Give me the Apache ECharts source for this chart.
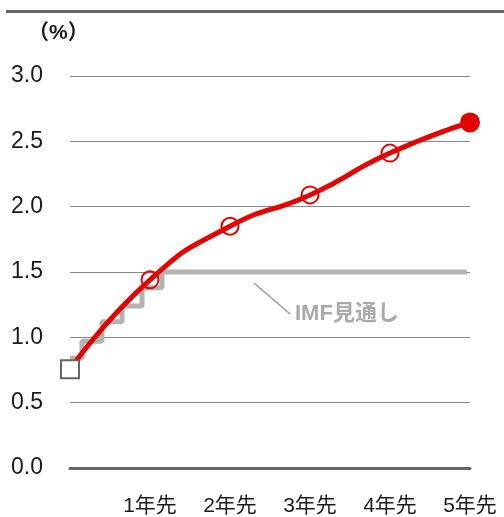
<!DOCTYPE html>
<html>
<head>
<meta charset="utf-8">
<script src="https://cdn.jsdelivr.net/npm/echarts@6/dist/echarts.min.js"></script>
<style>
html,body{margin:0;padding:0;background:#fff;}
#chart{width:504px;height:517px;}
</style>
</head>
<body>
<div id="chart"></div>
<script>
// Data
const years = [0, 1, 2, 3, 4, 5];
const xTickLabels = ['', '1年先', '2年先', '3年先', '4年先', '5年先'];
const forecastValues = [0.755, 1.44, 1.85, 2.09, 2.41, 2.645];
const imfX = [0, 0.15, 0.4, 0.65, 0.9, 1.15, 4.96];
const imfValues = [0.84, 0.97, 1.12, 1.24, 1.38, 1.5, 1.5];
const yTicks = [0, 0.5, 1.0, 1.5, 2.0, 2.5, 3.0];
const unitLabel = '（%）';
const imfLabel = 'IMF見通し';

const RED = '#e50000';
const FONT = '"Liberation Sans", Arial, "Noto Sans CJK JP", sans-serif';

const redData = years.map((x, i) => {
  const item = { value: [x, forecastValues[i]] };
  if (i === 0) {
    item.symbol = 'none';
  } else if (i === years.length - 1) {
    item.symbol = 'circle';
    item.symbolSize = 20;
    item.itemStyle = { color: RED, borderColor: RED, borderWidth: 0 };
  } else {
    item.symbol = 'circle';
    item.symbolSize = 17;
    item.itemStyle = { color: 'rgba(255,255,255,0)', borderColor: RED, borderWidth: 2 };
  }
  return item;
});

const chart = echarts.init(document.getElementById('chart'), null, { renderer: 'canvas' });
chart.setOption({
  animation: false,
  backgroundColor: '#fff',
  grid: { left: 70, right: 34, top: 76, bottom: 45.5, containLabel: false },
  xAxis: {
    type: 'value', min: 0, max: 5, interval: 1,
    axisLine: { show: true, lineStyle: { color: '#666', width: 3 } },
    axisTick: { show: false },
    splitLine: { show: false },
    axisLabel: {
      margin: 28, fontSize: 21, color: '#1a1a1a', fontFamily: FONT,
      formatter: v => xTickLabels[Math.round(v)] || ''
    }
  },
  yAxis: {
    type: 'value', min: yTicks[0], max: yTicks[yTicks.length - 1], interval: 0.5,
    axisLine: { show: false },
    axisTick: { show: false },
    splitLine: { show: true, lineStyle: { color: '#888', width: 1 } },
    axisLabel: {
      margin: 27, fontSize: 23, color: '#1a1a1a', fontFamily: FONT,
      formatter: v => v.toFixed(1)
    }
  },
  series: [
    {
      type: 'line',
      data: imfX.map((x, i) => [x, imfValues[i]]),
      step: 'end',
      symbol: 'none',
      lineStyle: { color: '#b3b3b3', width: 5, cap: 'butt' },
      z: 2
    },
    {
      type: 'line',
      data: redData,
      smooth: 0.55,
      lineStyle: { color: RED, width: 5, cap: 'round' },
      z: 3
    },
    {
      type: 'scatter',
      data: [[years[0], forecastValues[0]]],
      symbol: 'rect',
      symbolSize: 18,
      itemStyle: { color: '#fff', borderColor: '#666', borderWidth: 2, opacity: 1 },
      z: 5
    }
  ],
  graphic: [
    { type: 'rect', shape: { x: 6, y: 10, width: 498, height: 3 }, style: { fill: '#666' } },
    { type: 'text', left: 28, top: 23, style: { text: unitLabel, fontSize: 21, fontWeight: 'bold', fill: '#1a1a1a', fontFamily: FONT } },
    { type: 'line', shape: { x1: 254, y1: 283, x2: 290, y2: 314 }, style: { stroke: '#999', lineWidth: 1.5 } },
    { type: 'text', left: 295, top: 303, style: { text: imfLabel, fontSize: 22, fontWeight: 'bold', fill: '#aaa', fontFamily: FONT } }
  ]
});
</script>
</body>
</html>
